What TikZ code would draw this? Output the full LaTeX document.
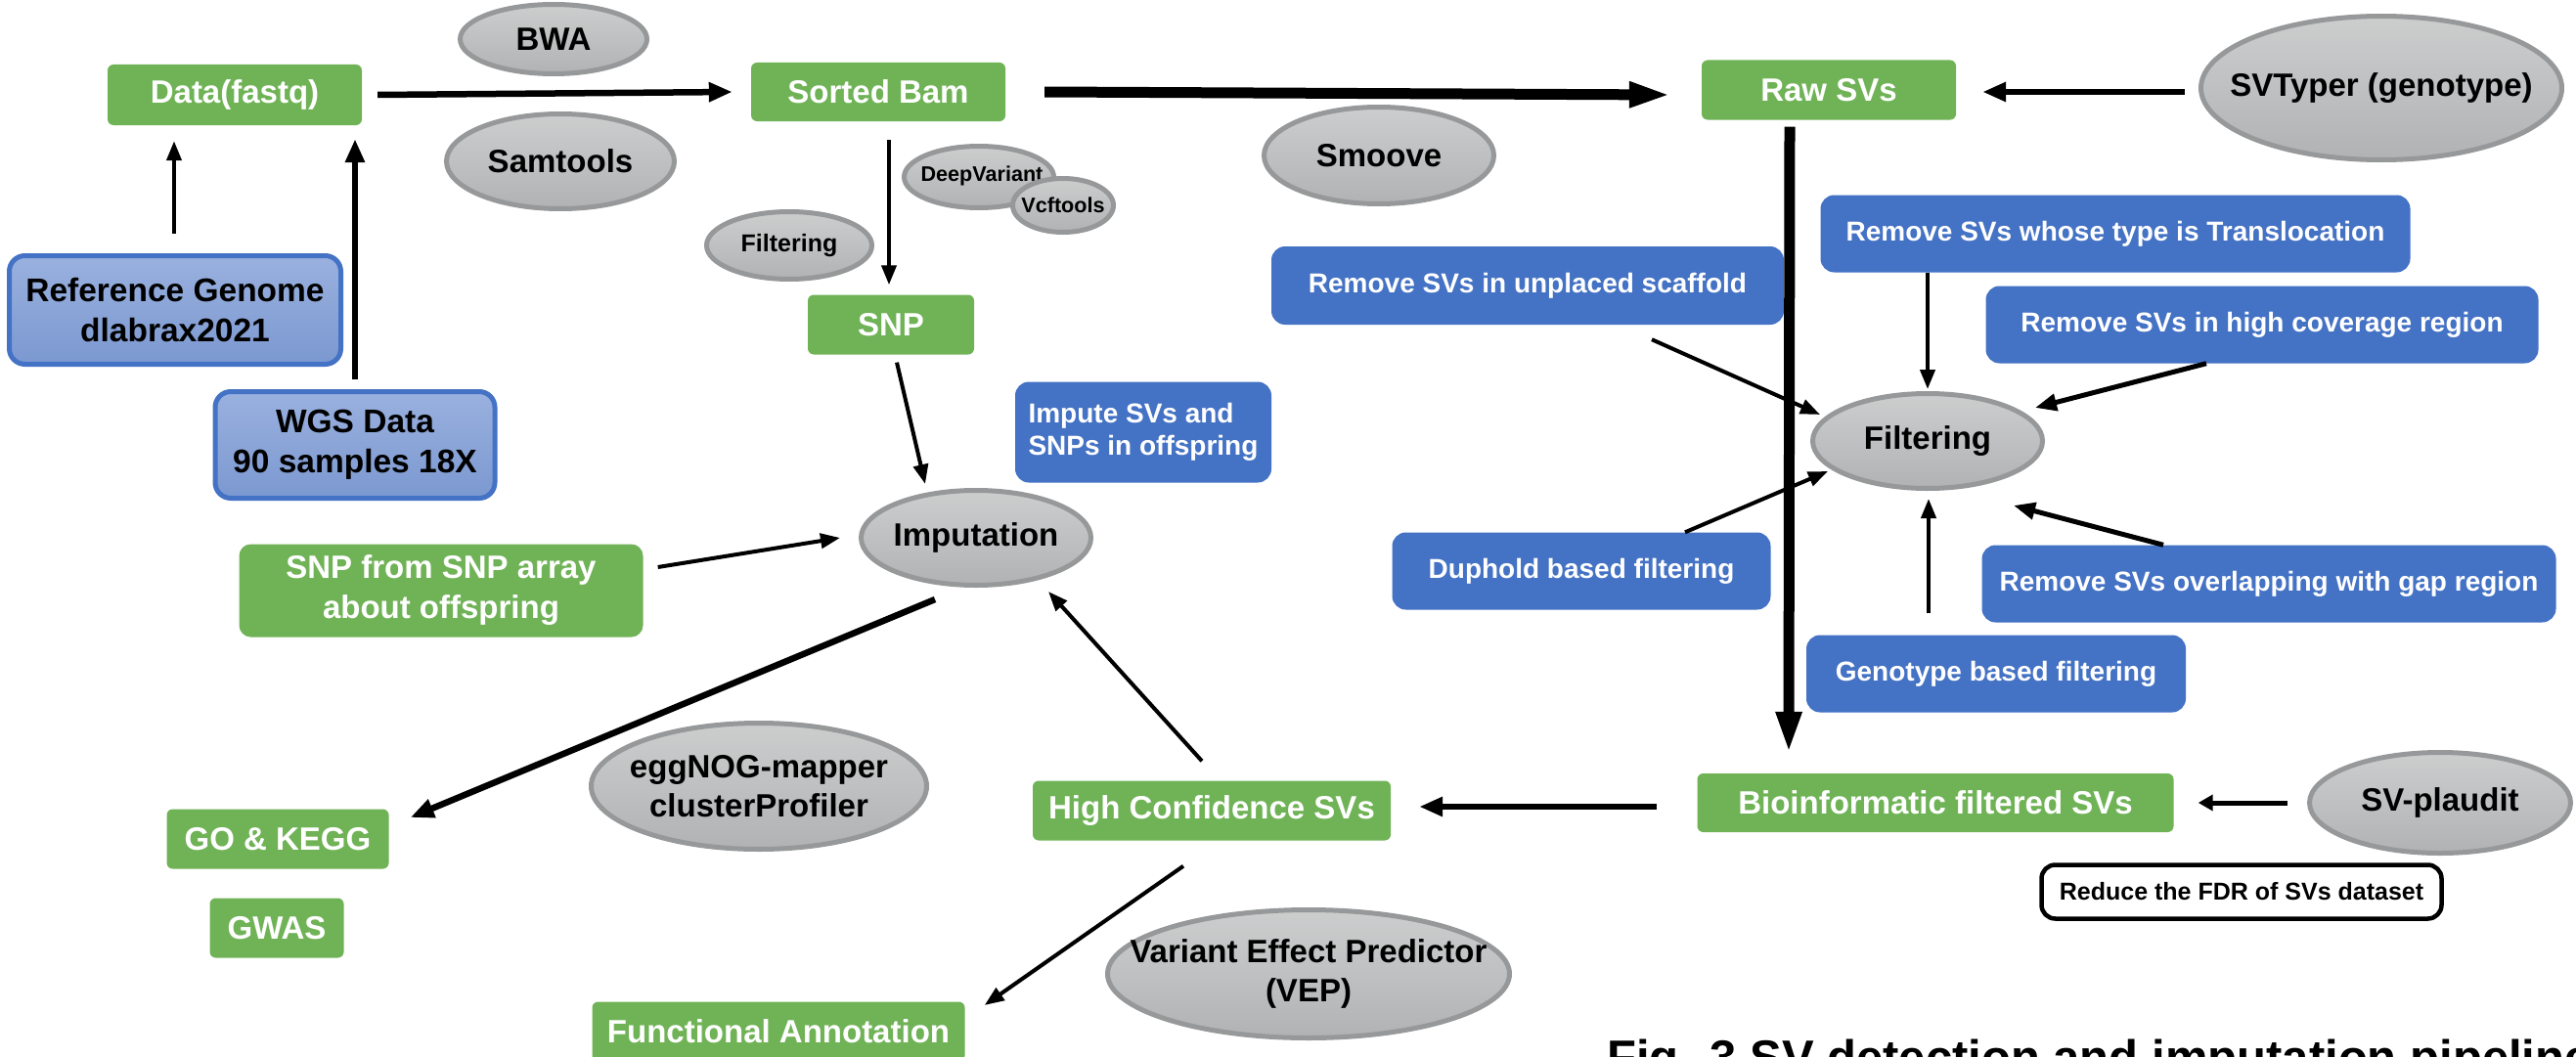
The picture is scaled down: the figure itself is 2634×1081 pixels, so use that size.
\documentclass[tikz,border=0pt]{standalone}
\usepackage{fontspec}
\setmainfont{Liberation Sans}
\usetikzlibrary{shapes.geometric,arrows.meta}
\definecolor{grn}{RGB}{112,179,87}
\definecolor{blu}{RGB}{68,114,196}
\definecolor{lbT}{RGB}{154,177,223}
\definecolor{lbB}{RGB}{123,152,208}
\definecolor{gyT}{RGB}{204,206,206}
\definecolor{gyB}{RGB}{176,178,180}
\definecolor{gyE}{RGB}{150,152,153}
\tikzset{
  gbox/.style={rectangle, rounded corners=6pt, fill=grn, text=white, inner sep=0pt,
    font=\fontsize{33}{41}\selectfont\bfseries, align=center},
  bbox/.style={rectangle, rounded corners=14pt, fill=blu, text=white, inner sep=0pt,
    font=\fontsize{28}{33}\selectfont\bfseries, align=center},
  lbox/.style={rectangle, rounded corners=16pt, top color=lbT, bottom color=lbB, draw=blu,
    line width=5pt, text=black, inner sep=0pt, font=\fontsize{33.5}{41}\selectfont\bfseries, align=center},
  gell/.style={ellipse, top color=gyT, bottom color=gyB, draw=gyE, line width=5pt, inner sep=0pt},
  etxt/.style={inner sep=0pt, text=black, font=\fontsize{33}{40}\selectfont\bfseries, align=center},
  wbox/.style={rectangle, rounded corners=14pt, draw=black, line width=4.5pt, fill=white, inner sep=0pt,
    font=\fontsize{25}{30}\selectfont\bfseries},
  arT/.style={line width=4pt, -{Triangle[length=20pt,width=15pt]}},
  arT5/.style={line width=5pt, -{Triangle[length=22pt,width=17pt]}},
  arS/.style={line width=5pt, -{Triangle[length=15pt,width=16pt]}},
  arM/.style={line width=6.5pt, -{Triangle[length=24pt,width=19pt]}},
  arK/.style={line width=11pt, -{Triangle[length=43pt,width=24pt]}},
}
\begin{document}
\begin{tikzpicture}[x=1pt,y=-1pt]
\useasboundingbox (0,0) rectangle (2634,1081);
\clip (0,0) rectangle (2634,1081);

% grey ellipses
\node[gell, minimum width=191pt, minimum height=71pt] (bwa) at (566,40) {};
\node[etxt] (bwaT) at (bwa) {BWA};
\node[gell, minimum width=233pt, minimum height=97pt] (sam) at (573,165) {};
\node[etxt] (samT) at (sam) {Samtools};
\node[gell, minimum width=169pt, minimum height=69pt] (fi1) at (807,251) {};
\node[etxt, font=\fontsize{25}{30}\selectfont\bfseries] (fi1T) at (fi1) {Filtering};
\node[gell, minimum width=153pt, minimum height=63pt] (dv) at (1001,181) {};
\node[etxt, font=\fontsize{21.6}{26}\selectfont\bfseries] (dvT) at (1004,180) {DeepVariant};
\node[gell, minimum width=103pt, minimum height=55pt] (vcf) at (1087,210) {};
\node[etxt, font=\fontsize{21.6}{26}\selectfont\bfseries] (vcfT) at (vcf) {Vcftools};
\node[gell, minimum width=235pt, minimum height=99pt] (smo) at (1410,159) {};
\node[etxt] (smoT) at (smo) {Smoove};
\node[gell, minimum width=369pt, minimum height=147pt] (svt) at (2435,90) {};
\node[etxt] (svtT) at (svt) {SVTyper (genotype)};
\node[gell, minimum width=235pt, minimum height=97pt] (fi2) at (1971,451) {};
\node[etxt] (fi2T) at (fi2) {Filtering};
\node[gell, minimum width=235pt, minimum height=97pt] (imput) at (998,550) {};
\node[etxt] (imputT) at (imput) {Imputation};
\node[gell, minimum width=343pt, minimum height=129pt] (egg) at (776,804) {};
\node[etxt] (eggT) at (egg) {eggNOG-mapper\\clusterProfiler};
\node[gell, minimum width=411pt, minimum height=131pt] (vep) at (1338,996) {};
\node[etxt] (vepT) at (vep) {Variant Effect Predictor\\(VEP)};
\node[gell, minimum width=267pt, minimum height=103pt] (svp) at (2495,821) {};
\node[etxt] (svpT) at (svp) {SV-plaudit};

% green boxes
\node[gbox, minimum width=260pt, minimum height=62pt] (fq) at (240,97) {Data(fastq)};
\node[gbox, minimum width=260pt, minimum height=60pt] (sb) at (898,94) {Sorted Bam};
\node[gbox, minimum width=260pt, minimum height=61pt] (raw) at (1870,92) {Raw SVs};
\node[gbox, minimum width=170pt, minimum height=61pt] (snp) at (911,332) {SNP};
\node[gbox, rounded corners=12pt, minimum width=413pt, minimum height=95pt] (sarr) at (451,604) {SNP from SNP array\\about offspring};
\node[gbox, minimum width=366pt, minimum height=61pt] (hc) at (1239,829) {High Confidence SVs};
\node[gbox, minimum width=487pt, minimum height=60pt] (bf) at (1979,821) {Bioinformatic filtered SVs};
\node[gbox, minimum width=227pt, minimum height=61pt] (go) at (284,858) {GO \& KEGG};
\node[gbox, minimum width=137pt, minimum height=61pt] (gwas) at (283,949) {GWAS};
\node[gbox, minimum width=381pt, minimum height=61pt] (fa) at (796,1055) {Functional Annotation};

% blue boxes
\node[bbox, align=left, minimum width=262pt, minimum height=103pt] (imp) at (1169,442) {Impute SVs and\\SNPs in offspring};
\node[bbox, minimum width=603pt, minimum height=79pt] (tl) at (2163,239) {Remove SVs whose type is Translocation};
\node[bbox, minimum width=524pt, minimum height=80pt] (us) at (1562,292) {Remove SVs in unplaced scaffold};
\node[bbox, minimum width=565pt, minimum height=79pt] (hcov) at (2313,332) {Remove SVs in high coverage region};
\node[bbox, minimum width=387pt, minimum height=79pt] (dup) at (1617,584) {Duphold based filtering};
\node[bbox, minimum width=388pt, minimum height=79pt] (gt) at (2041,689) {Genotype based filtering};
\node[bbox, minimum width=587pt, minimum height=79pt] (gap) at (2320,597) {Remove SVs overlapping with gap region};

% light blue boxes
\node[lbox, minimum width=339pt, minimum height=111pt] (ref) at (179,317) {Reference Genome\\dlabrax2021};
\node[lbox, minimum width=286pt, minimum height=109pt] (wgs) at (363,455) {WGS Data\\90 samples 18X};

% white box
\node[wbox, minimum width=409pt, minimum height=55pt] (fdr) at (2292,912) {Reduce the FDR of SVs dataset};

% caption
\node[anchor=base west, inner sep=0pt, font=\fontsize{49}{58}\selectfont\bfseries] (cap) at (1643,1098) {Fig. 3 SV detection and imputation pipeline};

% connectors
\draw[arM] ([shift={(16,0)}]fq.east) -- ([shift={(-19,0)}]sb.west);
\draw[arT] ([shift={(-1,-20)}]ref.north) -- ([shift={(-62,16)}]fq.south);
\draw[arM] ([shift={(0,-10)}]wgs.north) -- ([shift={(123,14)}]fq.south);
\draw[arT] ([shift={(11,19)}]sb.south) -- ([shift={(-2,-10)}]snp.north);
\draw[arT] ([shift={(6,8)}]snp.south) -- ([shift={(-52,-4)}]imput.north);
\draw[arT] ([shift={(15,-24)}]sarr.east) -- ([shift={(-19,0)}]imput.west);
\draw[arM] ([shift={(-42,12)}]imput.south) -- ([shift={(22,-22)}]go.east);
\draw[arT] ([shift={(-10,-20)}]hc.north) -- ([shift={(74,55)}]imput.center);
\draw[arT] ([shift={(-29,26)}]hc.south) -- ([shift={(20,-27)}]fa.east);
\draw[arM] ([shift={(-41,4)}]bf.west) -- ([shift={(29,-4)}]hc.east);
\draw[arK] ([shift={(40,0)}]sb.east) -- ([shift={(-31,5)}]raw.west);
\draw[arM] ([shift={(-14,4)}]svt.west) -- ([shift={(27,2)}]raw.east);
\draw[arK] ([shift={(-40,7)}]raw.south) -- ([shift={(-150,-20)}]bf.north);
\draw[arT] ([shift={(127,15)}]us.south) -- ([shift={(-110,-27)}]fi2.center);
\draw[arT] ([shift={(-192,0)}]tl.south) -- ([shift={(0,-2)}]fi2.north);
\draw[arT5] ([shift={(-57,0)}]hcov.south) -- ([shift={(110,-34)}]fi2.center);
\draw[arT] ([shift={(106,0)}]dup.north) -- ([shift={(-102,31)}]fi2.center);
\draw[arT] ([shift={(-69,-22)}]gt.north) -- ([shift={(1,8)}]fi2.south);
\draw[arT5] ([shift={(-108,0)}]gap.north) -- ([shift={(88,66)}]fi2.center);
\draw[arS] ([shift={(-20,0)}]svp.west) -- ([shift={(25,0)}]bf.east);
\end{tikzpicture}
\end{document}
